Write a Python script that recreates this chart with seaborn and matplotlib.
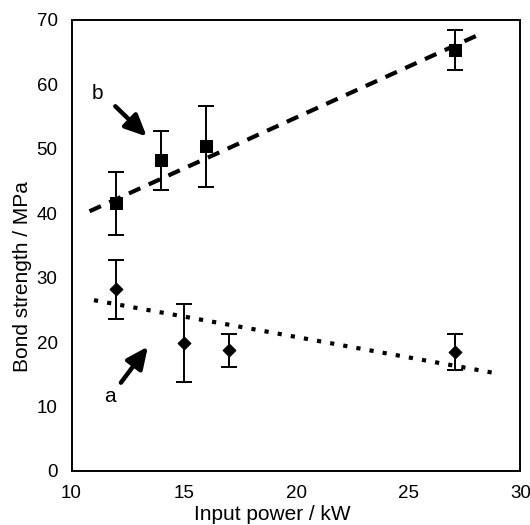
import matplotlib
matplotlib.use("Agg")
import matplotlib.pyplot as plt
import seaborn as sns
import pandas as pd

# Series b (squares)
b_x = [12.0, 14.0, 16.0, 27.1]
b_y = [41.6, 48.2, 50.4, 65.4]
b_lo = [36.6, 43.6, 44.0, 62.3]
b_hi = [46.4, 52.8, 56.7, 68.5]
b_fit_x = [10.8, 28.2]
b_fit_y = [40.3, 67.8]

# Series a (diamonds)
a_x = [12.0, 15.0, 17.0, 27.1]
a_y = [28.3, 19.9, 18.7, 18.4]
a_lo = [23.6, 13.8, 16.2, 15.6]
a_hi = [32.7, 25.9, 21.3, 21.3]
a_fit_x = [11.0, 29.0]
a_fit_y = [26.5, 15.1]

x_ticks = [10, 15, 20, 25, 30]
y_ticks = [0, 10, 20, 30, 40, 50, 60, 70]

sns.set_style("white")
plt.rcParams['font.family'] = ['Liberation Sans', 'DejaVu Sans']
plt.rcParams['text.color'] = 'black'
plt.rcParams['axes.labelcolor'] = 'black'

fig, ax = plt.subplots(figsize=(5.3, 5.25), dpi=100)
fig.subplots_adjust(left=0.135, right=0.982, bottom=0.103, top=0.962)

df_b = pd.DataFrame({"x": b_x, "y": b_y})
df_a = pd.DataFrame({"x": a_x, "y": a_y})

sns.lineplot(x=b_fit_x, y=b_fit_y, ax=ax, color="black", lw=3.0,
             linestyle=(0, (3, 2.2)))
sns.lineplot(x=a_fit_x, y=a_fit_y, ax=ax, color="black", lw=3.0,
             linestyle=(0, (1, 2.2)))

for xs, ys, lo, hi in [(b_x, b_y, b_lo, b_hi), (a_x, a_y, a_lo, a_hi)]:
    yerr = [[y - l for y, l in zip(ys, lo)], [h - y for y, h in zip(ys, hi)]]
    ax.errorbar(xs, ys, yerr=yerr, fmt="none", ecolor="black", elinewidth=1.4,
                capsize=6, capthick=1.4, zorder=3)

sns.scatterplot(data=df_b, x="x", y="y", ax=ax, marker="s", s=85, color="black",
                edgecolor="black", zorder=4)
sns.scatterplot(data=df_a, x="x", y="y", ax=ax, marker="D", s=45, color="black",
                edgecolor="black", zorder=4)

arrow = dict(arrowstyle="-|>,head_length=1.3,head_width=0.6", color="black", lw=3.2,
             shrinkA=0, shrinkB=0)
ax.annotate("", xy=(13.35, 51.9), xytext=(11.95, 56.6), arrowprops=arrow)
ax.annotate("", xy=(13.4, 19.3), xytext=(12.2, 13.7), arrowprops=arrow)
ax.text(11.15, 58.6, "b", fontsize=15, ha="center", va="center")
ax.text(11.7, 11.5, "a", fontsize=15, ha="center", va="center")

ax.set_xlim(10, 30)
ax.set_ylim(0, 70)
ax.set_xticks(x_ticks)
ax.set_yticks(y_ticks)
ax.set_xticklabels([str(t) for t in x_ticks])
ax.set_yticklabels([str(t) for t in y_ticks])
ax.tick_params(direction="in", length=8, width=1.4, labelsize=13.5, pad=10,
               color="black", labelcolor="black")
ax.set_xlabel("Input power / kW", fontsize=15)
ax.set_ylabel("Bond strength / MPa", fontsize=15)
ax.xaxis.set_label_coords(0.4475, -0.075)
ax.yaxis.set_label_coords(-0.088, 0.432)
for sp in ax.spines.values():
    sp.set_visible(True)
    sp.set_color("black")
    sp.set_linewidth(1.4)

fig.savefig("out.png", dpi=100)
